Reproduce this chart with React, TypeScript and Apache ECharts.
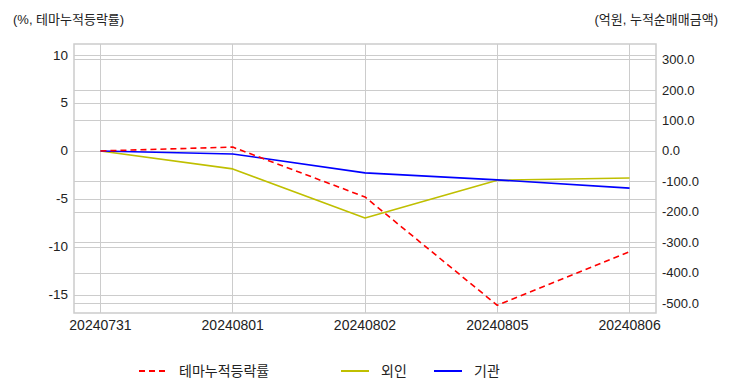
import React, { useEffect, useRef } from "react";
import * as echarts from "echarts";

const dates = ["20240731", "20240801", "20240802", "20240805", "20240806"];
const themeReturn = [0, 0.4, -4.8, -16.1, -10.5];
const foreign = [0, -59, -220, -96, -89];
const institution = [0, -10, -72, -95, -122];
const leftTicks = [-15, -10, -5, 0, 5, 10];
const rightTicks = [-500, -400, -300, -200, -100, 0, 100, 200, 300];
const xTicks = [0, 1, 2, 3, 4];

const FONT = "'Liberation Sans', 'Noto Sans CJK KR', sans-serif";
const GRID = "#cccccc";

export default function App() {
  const ref = useRef<HTMLDivElement>(null);
  useEffect(() => {
    document.body.style.margin = "0";
    const chart = echarts.init(ref.current!, null, { renderer: "svg" });
    const legendBase = {
      top: 359,
      itemWidth: 28,
      itemHeight: 14,
      itemStyle: { opacity: 0 },
      textStyle: { fontSize: 14, color: "#222", fontFamily: FONT, padding: [0, 0, 0, 7] },
    };
    chart.setOption({
      animation: false,
      textStyle: { fontFamily: FONT },
      title: [
        { text: "(%, 테마누적등락률)", left: 8, top: 8, textStyle: { fontSize: 13, fontWeight: "normal", color: "#222", fontFamily: FONT } },
        { text: "(억원, 누적순매매금액)", right: 9, top: 8, textStyle: { fontSize: 13, fontWeight: "normal", color: "#222", fontFamily: FONT } },
      ],
      legend: [
        { ...legendBase, left: 133, data: ["테마누적등락률"] },
        { ...legendBase, left: 335, data: ["외인"] },
        { ...legendBase, left: 428, data: ["기관"] },
      ],
      grid: { left: 74, right: 76, top: 44, bottom: 79, show: true, borderColor: GRID, borderWidth: 1.5, backgroundColor: "transparent" },
      xAxis: {
        type: "value",
        min: -0.2,
        max: 4.2,
        axisLine: { show: false },
        axisTick: { show: false, customValues: xTicks },
        axisLabel: {
          customValues: xTicks,
          formatter: (v: number) => dates[Math.round(v)] ?? "",
          fontSize: 14,
          color: "#222",
          margin: 5,
          fontFamily: FONT,
        },
        splitLine: { show: true, lineStyle: { color: GRID, width: 1 } },
      },
      yAxis: [
        {
          type: "value",
          min: -16.9,
          max: 11.15,
          axisLine: { show: false },
          axisTick: { show: false, customValues: leftTicks },
          axisLabel: { customValues: leftTicks, fontSize: 13.5, color: "#222", margin: 6, fontFamily: FONT, formatter: (v: number) => String(v) },
          splitLine: { show: true, lineStyle: { color: GRID, width: 1 } },
        },
        {
          type: "value",
          min: -532,
          max: 351,
          position: "right",
          axisLine: { show: false },
          axisTick: { show: false, customValues: rightTicks },
          axisLabel: { customValues: rightTicks, fontSize: 13, color: "#222", margin: 6, fontFamily: FONT, formatter: (v: number) => v.toFixed(1) },
          splitLine: { show: true, lineStyle: { color: GRID, width: 1 } },
        },
      ],
      series: [
        {
          name: "테마누적등락률",
          type: "line",
          yAxisIndex: 0,
          symbol: "none",
          data: themeReturn.map((v, i) => [i, v]),
          lineStyle: { color: "#ff0000", width: 1.6, type: [6, 4] },
          itemStyle: { color: "#ff0000" },
          z: 3,
        },
        {
          name: "외인",
          type: "line",
          yAxisIndex: 1,
          symbol: "none",
          data: foreign.map((v, i) => [i, v]),
          lineStyle: { color: "#bfbf00", width: 1.6 },
          itemStyle: { color: "#bfbf00" },
          z: 2,
        },
        {
          name: "기관",
          type: "line",
          yAxisIndex: 1,
          symbol: "none",
          data: institution.map((v, i) => [i, v]),
          lineStyle: { color: "#0000ff", width: 1.6 },
          itemStyle: { color: "#0000ff" },
          z: 2,
        },
      ],
    });
    return () => chart.dispose();
  }, []);
  return <div ref={ref} style={{ width: 732, height: 392, position: "absolute", left: 0, top: 0 }} />;
}
